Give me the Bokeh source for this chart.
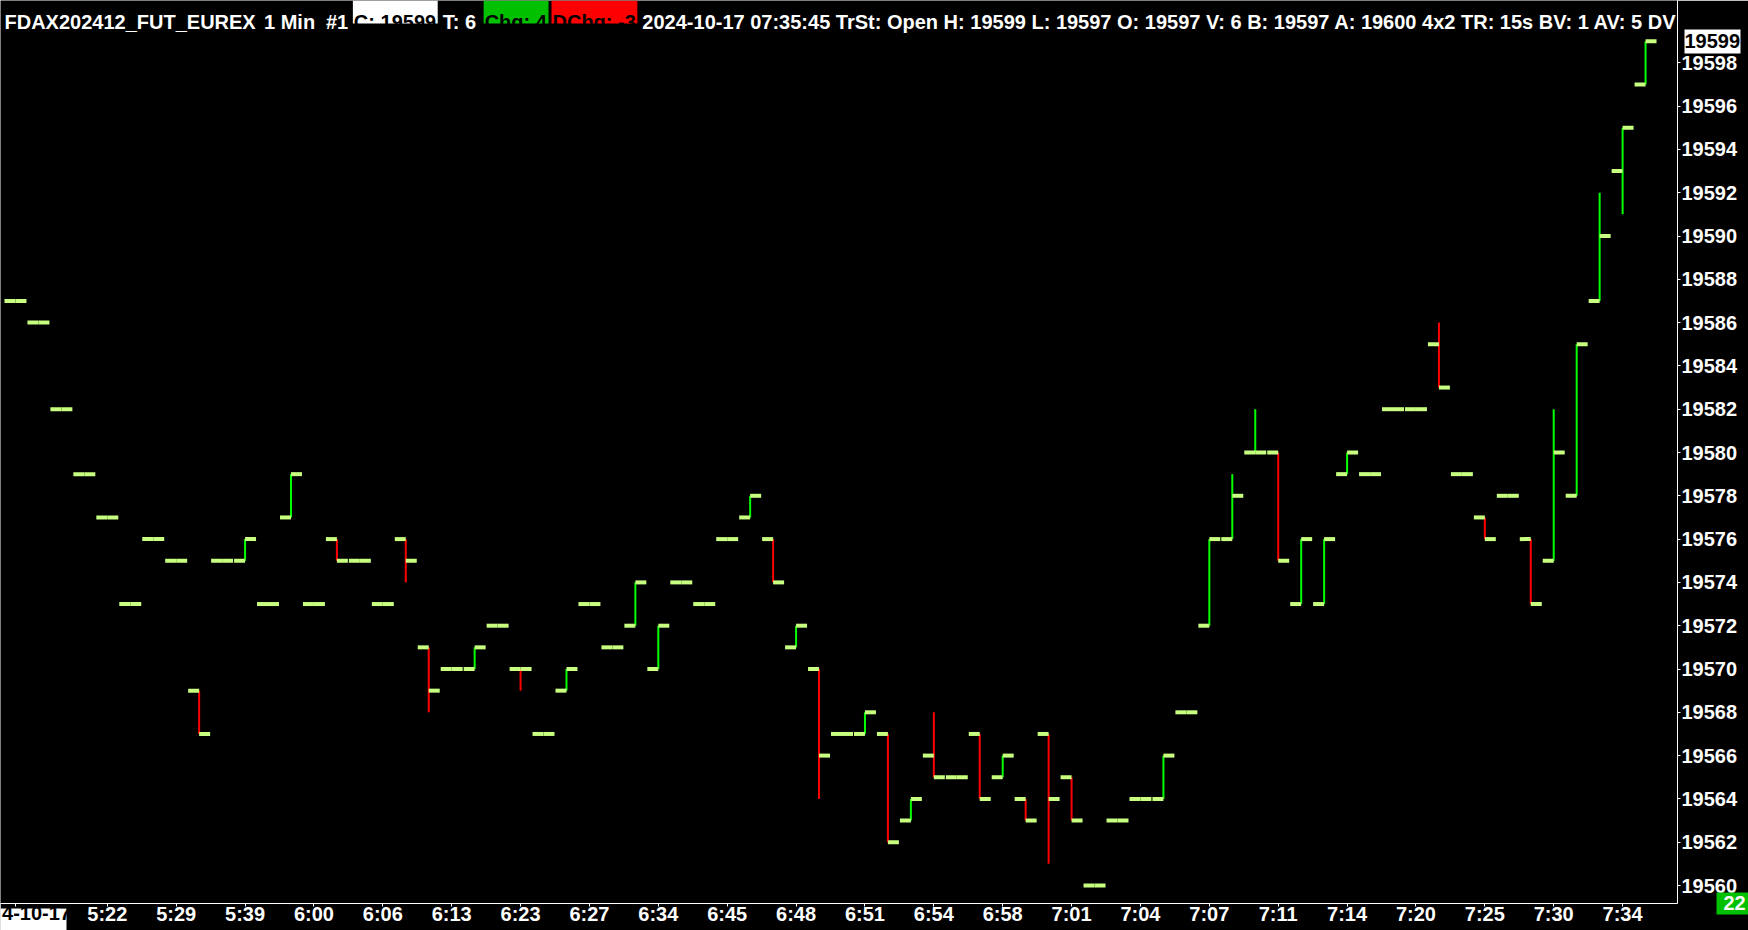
import numpy as np
from bokeh.plotting import figure
from bokeh.models import (FixedTicker, Range1d, PrintfTickFormatter, ColumnDataSource,
                          LinearAxis)
from bokeh.core.properties import value
from bokeh.embed import file_html
from bokeh.resources import INLINE

# ---------------- data (1-minute OHLC bars, FDAX202412) ----------------
opens = [19587, 19586, 19582, 19579, 19577, 19573, 19576, 19575, 19569, 19575,
         19575, 19573, 19577, 19573, 19576, 19575, 19573, 19576, 19571, 19570,
         19570, 19572, 19570, 19567, 19569, 19573, 19571, 19572, 19570, 19574,
         19573, 19576, 19577, 19576, 19571, 19570, 19567, 19567, 19567, 19563,
         19566, 19565, 19567, 19565, 19564, 19567, 19565, 19560, 19563, 19564,
         19564, 19568, 19572, 19576, 19580, 19580, 19573, 19573, 19579, 19579,
         19582, 19582, 19585, 19579, 19577, 19578, 19576, 19575, 19578, 19587,
         19593, 19597]
highs = [19587, 19586, 19582, 19579, 19577, 19573, 19576, 19575, 19569, 19575,
         19576, 19573, 19579, 19573, 19576, 19575, 19573, 19576, 19571, 19570,
         19571, 19572, 19570, 19567, 19570, 19573, 19571, 19574, 19572, 19574,
         19573, 19576, 19578, 19576, 19572, 19570, 19567, 19568, 19567, 19564,
         19568, 19565, 19567, 19566, 19564, 19567, 19565, 19560, 19563, 19564,
         19566, 19568, 19576, 19579, 19582, 19580, 19576, 19576, 19580, 19579,
         19582, 19582, 19586, 19579, 19577, 19578, 19576, 19582, 19585, 19592,
         19595, 19599]
lows = [19587, 19586, 19582, 19579, 19577, 19573, 19576, 19575, 19567, 19575,
        19575, 19573, 19577, 19573, 19575, 19575, 19573, 19574, 19568, 19570,
        19570, 19572, 19569, 19567, 19569, 19573, 19571, 19572, 19570, 19574,
        19573, 19576, 19577, 19574, 19571, 19564, 19567, 19567, 19562, 19563,
        19565, 19565, 19564, 19565, 19563, 19561, 19563, 19560, 19563, 19564,
        19564, 19568, 19572, 19576, 19580, 19575, 19573, 19573, 19579, 19579,
        19582, 19582, 19583, 19579, 19576, 19578, 19573, 19575, 19578, 19587,
        19591, 19597]
closes = [19587, 19586, 19582, 19579, 19577, 19573, 19576, 19575, 19567, 19575,
          19576, 19573, 19579, 19573, 19575, 19575, 19573, 19575, 19569, 19570,
          19571, 19572, 19570, 19567, 19570, 19573, 19571, 19574, 19572, 19574,
          19573, 19576, 19578, 19574, 19572, 19566, 19567, 19568, 19562, 19564,
          19565, 19565, 19564, 19566, 19563, 19564, 19563, 19560, 19563, 19564,
          19566, 19568, 19576, 19578, 19580, 19575, 19576, 19576, 19580, 19579,
          19582, 19582, 19583, 19579, 19576, 19578, 19573, 19580, 19585, 19590,
          19595, 19599]

time_tick_bars = [0, 4, 7, 10, 13, 16, 19, 22, 25, 28, 31, 34, 37, 40, 43, 46,
                  49, 52, 55, 58, 61, 64, 67, 70]
time_tick_labels = ["4-10-17", "5:22", "5:29", "5:39", "6:00", "6:06", "6:13",
                    "6:23", "6:27", "6:34", "6:45", "6:48", "6:51", "6:54", "6:58",
                    "7:01", "7:04", "7:07", "7:11", "7:14", "7:20", "7:25", "7:30",
                    "7:34"]
price_ticks = list(range(19560, 19600, 2))
last_price = 19599
bar_counter = "22"

header_symbol = "FDAX202412_FUT_EUREX"
header_period = "1 Min"
header_chart = "#1"
header_close = "C: 19599"
header_trades = "T: 6"
header_chg = "Chg: 4"
header_dchg = "DChg: -3"
header_rest = ("2024-10-17 07:35:45 TrSt: Open H: 19599 L: 19597 O: 19597 V: 6 "
               "B: 19597 A: 19600 4x2 TR: 15s BV: 1 AV: 5 DV")

# ---------------- layout helpers (page pixels -> data) ----------------
BAR0_PX, BAR_STEP = 15.0, 23.0
Y_REF_PX, Y_REF_V, PX_PER_PT = 885.0, 19560.0, 21.65
FRAME_R, FRAME_B = 1680, 903
FIG_W, FIG_H = 1748, 930


def px_to_x(px):
    return (px - BAR0_PX) / BAR_STEP


def px_to_y(py):
    return Y_REF_V + (Y_REF_PX - py) / PX_PER_PT


FONT = "Liberation Sans"
TICK_COLOR = "#c8ff80"
UP_COLOR = "#00ff00"
DOWN_COLOR = "#ff0000"
BOX_GREEN = "#00c000"

n = len(opens)
idx = np.arange(n)
colors = []
for i in range(n):
    if closes[i] > opens[i]:
        colors.append(UP_COLOR)
    elif closes[i] < opens[i]:
        colors.append(DOWN_COLOR)
    else:
        prev = closes[i - 1] if i > 0 else closes[i]
        colors.append(UP_COLOR if closes[i] >= prev else DOWN_COLOR)

half = 11.0 / BAR_STEP
src = ColumnDataSource(dict(
    x=idx, xl=idx - half, xr=idx + half,
    o=opens, h=highs, l=lows, c=closes, col=colors,
))
rng = [i for i in range(n) if highs[i] > lows[i]]
src_v = ColumnDataSource(dict(
    x=[i for i in rng], h=[highs[i] for i in rng], l=[lows[i] for i in rng],
    col=[colors[i] for i in rng]))

p = figure(width=FIG_W, height=FIG_H, output_backend="svg", toolbar_location=None,
           x_range=Range1d(px_to_x(0), px_to_x(FRAME_R)),
           y_range=Range1d(px_to_y(FRAME_B), px_to_y(0)),
           y_axis_location="right",
           min_border_left=0, min_border_top=0, min_border_right=FIG_W - FRAME_R,
           min_border_bottom=FIG_H - FRAME_B)
p.background_fill_color = "black"
p.border_fill_color = "black"
p.outline_line_color = None
p.grid.visible = False

# bars
p.segment(x0="x", y0="l", x1="x", y1="h", line_color="col", line_width=2, source=src_v)
p.segment(x0="xl", y0="o", x1="x", y1="o", line_color=TICK_COLOR, line_width=4, source=src)
p.segment(x0="x", y0="c", x1="xr", y1="c", line_color=TICK_COLOR, line_width=4, source=src)


def style_labels(ax, color="white"):
    ax.major_label_text_color = color
    ax.major_label_text_font = FONT
    ax.major_label_text_font_style = "bold"
    ax.major_label_text_font_size = "20px"


# main axes
xa = p.xaxis[0]
xa.ticker = FixedTicker(ticks=time_tick_bars)
overrides = {b: t for b, t in zip(time_tick_bars, time_tick_labels)}
overrides[time_tick_bars[0]] = ""          # drawn boxed below
xa.major_label_overrides = overrides
ya = p.yaxis[0]
ya.ticker = FixedTicker(ticks=price_ticks)
ya.formatter = PrintfTickFormatter(format="%d")
for ax in (xa, ya):
    ax.axis_line_color = "white"
    ax.axis_line_width = 1
    ax.major_tick_line_color = "white"
    ax.major_tick_in = 0
    ax.major_tick_out = 3
    ax.minor_tick_line_color = None
    style_labels(ax)
xa.major_label_standoff = -4
ya.major_label_standoff = 1


def boxed_scale_label(side, tick, label, box_color, box_thickness, tick_in, tick_out,
                      text_color, standoff):
    """Boxed label on a price/time scale: an extra, zero-size axis stacked outside
    the main one; its single thick major tick forms the box behind the label."""
    ax = LinearAxis(ticker=FixedTicker(ticks=[tick]),
                    major_label_overrides={tick: label},
                    axis_line_color=None, minor_tick_line_color=None,
                    major_tick_line_color=box_color,
                    major_tick_line_width=box_thickness,
                    major_tick_line_cap="butt",
                    major_tick_in=tick_in, major_tick_out=tick_out,
                    major_label_standoff=standoff)
    style_labels(ax, text_color)
    p.add_layout(ax, side)
    return ax


# date at the first bar (white box at the lower left)
boxed_scale_label("below", px_to_x(33), time_tick_labels[0], "white", 66, 19, 6,
                  "black", -28)
# last price marker on the price scale (white box)
boxed_scale_label("right", last_price, str(last_price), "white", 24, 56, 0,
                  "black", -56)
# bar counter (green box at the lower right corner of the price scale)
boxed_scale_label("right", px_to_y(902.5), bar_counter, BOX_GREEN, 22, 27, 8,
                  "white", -28)

# header line (inside the frame, clipped at the frame edge like the original)
hy_top = px_to_y(0)
hy_bot = px_to_y(23)
p.quad(left=[px_to_x(353), px_to_x(484), px_to_x(552)],
       right=[px_to_x(438), px_to_x(549), px_to_x(638)],
       top=[hy_top] * 3, bottom=[hy_bot] * 3,
       fill_color=["white", BOX_GREEN, "#ff0000"], line_color=None)
base = px_to_y(21)
p.text(x=[px_to_x(4), px_to_x(264), px_to_x(326), px_to_x(443), px_to_x(643)],
       y=[base] * 5,
       text=[header_symbol, header_period, header_chart, header_trades, header_rest],
       text_color="white", text_font=value(FONT), text_font_style="bold",
       text_font_size="20px", text_baseline="alphabetic", text_align="left")
p.text(x=[px_to_x(354), px_to_x(485), px_to_x(553)], y=[base] * 3,
       text=[header_close, header_chg, header_dchg],
       text_color="black", text_font=value(FONT), text_font_style="bold",
       text_font_size="20px", text_baseline="alphabetic", text_align="left")

open("out.html", "w").write(file_html(p, INLINE))
